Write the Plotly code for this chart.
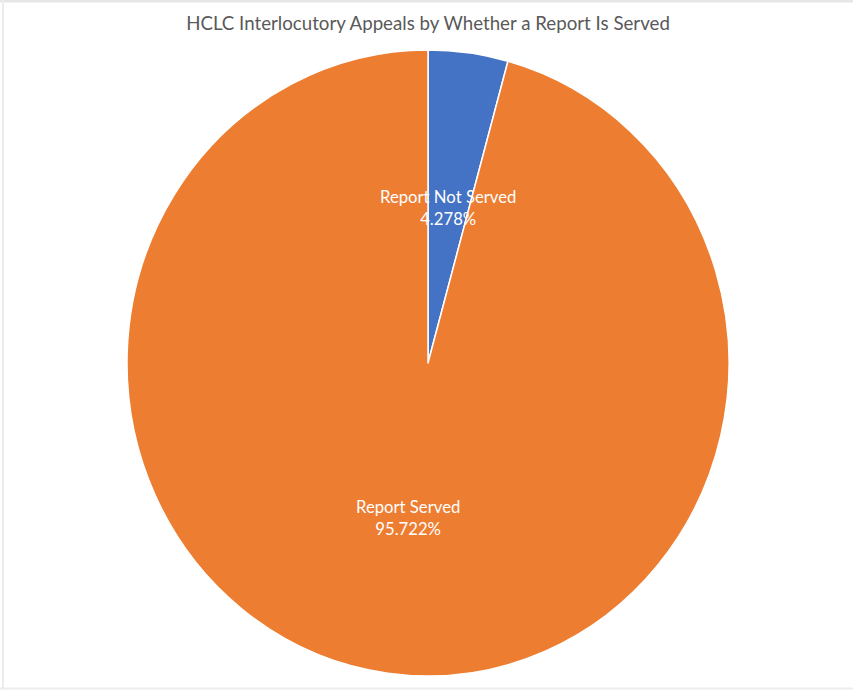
import math
import plotly.graph_objects as go

# Share of HCLC interlocutory appeals
categories = ["Report Not Served", "Report Served"]
shares = [4.278, 95.722]
colors = ["#4472C4", "#ED7D31"]

W, H = 853, 690
cx, cy, R = 428, 363, 301  # pie centre / radius in pixels
sy = 313 / 301             # vertical stretch of the pie
label_r = [0.5, 0.5]       # label distance from centre as fraction of radius

fig = go.Figure(
    go.Pie(
        labels=categories,
        values=shares,
        sort=False,
        direction="clockwise",
        rotation=0,
        marker=dict(colors=colors, line=dict(color="white", width=1.5)),
        textinfo="none",
        hoverinfo="label+percent",
        showlegend=False,
        domain=dict(x=[(cx - R) / W, (cx + R) / W],
                    y=[(H - cy - R) / H, (H - cy + R) / H]),
    )
)

# Data labels placed along each slice's mid-angle
total = sum(shares)
annotations = []
start = 0.0
for name, val, fr in zip(categories, shares, label_r):
    mid = (start + val / 2) / total * 2 * math.pi
    start += val
    px = cx + fr * R * math.sin(mid)
    py = cy - fr * R * sy * math.cos(mid)
    annotations.append(dict(
        x=px / W, y=(H - py) / H, xref="paper", yref="paper",
        xanchor="center", yanchor="middle",
        text=f"{name}<br>{val / total * 100:.3f}%",
        showarrow=False, font=dict(color="white", size=16.7, family="Lato"),
        align="center",
    ))

fig.update_layout(
    width=W, height=H,
    margin=dict(l=0, r=0, t=0, b=0),
    paper_bgcolor="white",
    title=dict(text="HCLC Interlocutory Appeals by Whether a Report Is Served",
               x=428 / W, xanchor="center", y=(H - 23) / H, yanchor="middle",
               font=dict(family="Lato", size=18.7, color="#595959")),
    annotations=annotations,
    shapes=[
        dict(type="line", xref="paper", yref="paper", x0=0, x1=1, y0=1, y1=1,
             line=dict(color="#E6E6E6", width=5)),
        dict(type="line", xref="paper", yref="paper", x0=0.0035, x1=0.0035, y0=0, y1=1,
             line=dict(color="#ECECEC", width=2)),
        dict(type="line", xref="paper", yref="paper", x0=0, x1=1, y0=0.002, y1=0.002,
             line=dict(color="#ECECEC", width=2)),
    ],
)

# Stretch the pie layer slightly in the vertical direction
stretch_js = (
    "var gd=document.getElementById('{plot_id}');"
    "var pl=gd.querySelector('.pielayer');"
    f"if(pl){{pl.setAttribute('transform','translate(0,{cy}) scale(1,{sy:.5f}) translate(0,-{cy})');}}"
)

fig.write_html("out.html", post_script=stretch_js)
